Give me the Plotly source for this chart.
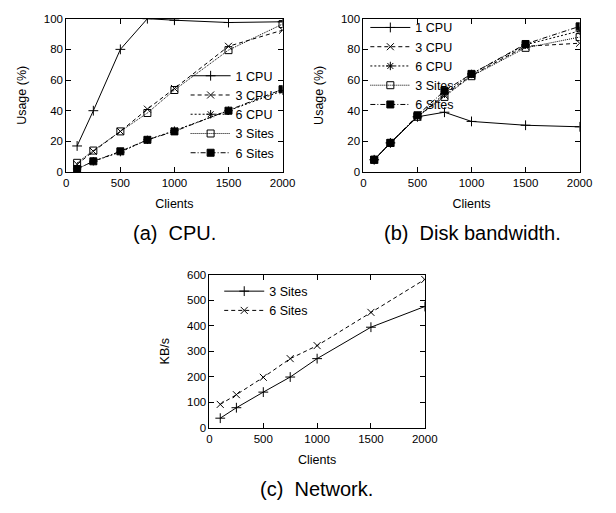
import plotly.graph_objects as go

clients = [100, 250, 500, 750, 1000, 1500, 2000]

# (a) CPU usage (%)
cpu_1cpu = [17, 40, 80, 100, 99, 97.5, 98]
cpu_3cpu = [5, 13.5, 26.5, 41, 54.5, 82, 92.5]
cpu_6cpu = [2, 7, 13, 21, 27, 40, 53]
cpu_3sites = [6, 14, 26.5, 38.5, 53.5, 79.5, 96.5]
cpu_6sites = [2, 7, 13.5, 21, 26.5, 40, 54]

# (b) Disk bandwidth usage (%)
disk_1cpu = [8, 19, 36, 39, 33, 30.5, 29.5]
disk_3cpu = [8, 19, 36, 50, 63, 82, 84]
disk_6cpu = [8, 19, 36, 51, 64, 83, 92]
disk_3sites = [8, 19, 36, 49, 62.5, 81, 88]
disk_6sites = [8, 19, 37, 53, 64, 83.5, 95]

# (c) Network KB/s
net_3sites = [38, 79, 140, 199, 271, 394, 475]
net_6sites = [92, 130, 198, 271, 322, 452, 581]

series_names = ["1 CPU", "3 CPU", "6 CPU", "3 Sites", "6 Sites"]
FONT = "Liberation Sans, Arial, Helvetica, sans-serif"

styles = {
    "1 CPU": dict(dash="solid", symbol="cross-thin"),
    "3 CPU": dict(dash="4px,3px", symbol="x-thin"),
    "6 CPU": dict(dash="2px,2px", symbol="asterisk-open"),
    "3 Sites": dict(dash="1px,1px", symbol="square-open"),
    "6 Sites": dict(dash="5px,2px,1px,2px", symbol="square"),
}

fig = go.Figure()

def add(x, y, name, xa, ya, legend, dash, symbol, size=7):
    fig.add_trace(go.Scatter(
        x=x, y=y, name=name, mode="lines+markers",
        xaxis=xa, yaxis=ya, legend=legend,
        line=dict(color="black", width=1, dash=dash),
        marker=dict(symbol=symbol, size=size, color="black",
                    line=dict(color="black", width=1)),
    ))

for name, ys in zip(series_names, [cpu_1cpu, cpu_3cpu, cpu_6cpu, cpu_3sites, cpu_6sites]):
    add(clients, ys, name, "x", "y", "legend", **styles[name])
for name, ys in zip(series_names, [disk_1cpu, disk_3cpu, disk_6cpu, disk_3sites, disk_6sites]):
    add(clients, ys, name, "x2", "y2", "legend2", **styles[name])
add(clients, net_3sites, "3 Sites", "x3", "y3", "legend3", "solid", "cross-thin")
add(clients, net_6sites, "6 Sites", "x3", "y3", "legend3", "4px,3px", "x-thin")

W, H = 616, 513
def px(v): return v / W
def py(v): return 1 - v / H

axis_common = dict(
    showline=True, linecolor="black", linewidth=1, mirror="ticks",
    ticks="inside", ticklen=5, tickcolor="black", tickwidth=1,
    showgrid=False, zeroline=False,
    tickfont=dict(family=FONT, size=11.5, color="black"),
    title_font=dict(family=FONT, size=12.5, color="black"),
)

xt = dict(tickvals=[0, 500, 1000, 1500, 2000], range=[0, 2000])
xtitle = dict(text="Clients", standoff=11)

fig.update_layout(
    width=W, height=H, autosize=False,
    margin=dict(l=0, r=0, t=0, b=0),
    paper_bgcolor="white", plot_bgcolor="white",
    font=dict(family=FONT, color="black"),
    xaxis=dict(domain=[px(65), px(287)], anchor="y", title=xtitle, **xt, **axis_common),
    yaxis=dict(domain=[py(170), py(13)], anchor="x", range=[0, 100], dtick=20,
               title=dict(text="Usage (%)", standoff=14), **axis_common),
    xaxis2=dict(domain=[px(370), px(592)], anchor="y2", title=xtitle, **xt, **axis_common),
    yaxis2=dict(domain=[py(170), py(13)], anchor="x2", range=[0, 100], dtick=20,
                title=dict(text="Usage (%)", standoff=14), **axis_common),
    xaxis3=dict(domain=[px(212), px(433)], anchor="y3", title=xtitle, **xt, **axis_common),
    yaxis3=dict(domain=[py(432), py(275)], anchor="x3", range=[0, 600], dtick=100,
                title=dict(text="KB/s", standoff=14), **axis_common),
    legend=dict(x=px(284), xanchor="right", y=py(166), yanchor="bottom",
                bgcolor="rgba(0,0,0,0)", itemwidth=40,
                font=dict(family=FONT, size=12.5, color="black")),
    legend2=dict(x=px(372), xanchor="left", y=py(7), yanchor="top",
                 bgcolor="rgba(0,0,0,0)", itemwidth=40,
                 font=dict(family=FONT, size=12.5, color="black")),
    legend3=dict(x=px(222), xanchor="left", y=py(277), yanchor="top",
                 bgcolor="rgba(0,0,0,0)", itemwidth=40,
                 font=dict(family=FONT, size=12.5, color="black")),
    annotations=[
        dict(text="(a)\u00a0 CPU.", x=px(176), y=py(232), xref="paper", yref="paper",
             showarrow=False, xanchor="center", yanchor="middle",
             font=dict(family=FONT, size=20, color="black")),
        dict(text="(b)\u00a0 Disk bandwidth.", x=px(482), y=py(232), xref="paper", yref="paper",
             showarrow=False, xanchor="center", yanchor="middle",
             font=dict(family=FONT, size=20, color="black")),
        dict(text="(c)\u00a0 Network.", x=px(322), y=py(495), xref="paper", yref="paper",
             showarrow=False, xanchor="center", yanchor="middle",
             font=dict(family=FONT, size=20, color="black")),
    ],
)

fig.write_html(
    "out.html",
    config={"displayModeBar": False},
    post_script="document.body.style.margin='0';document.body.style.overflow='hidden';",
)
